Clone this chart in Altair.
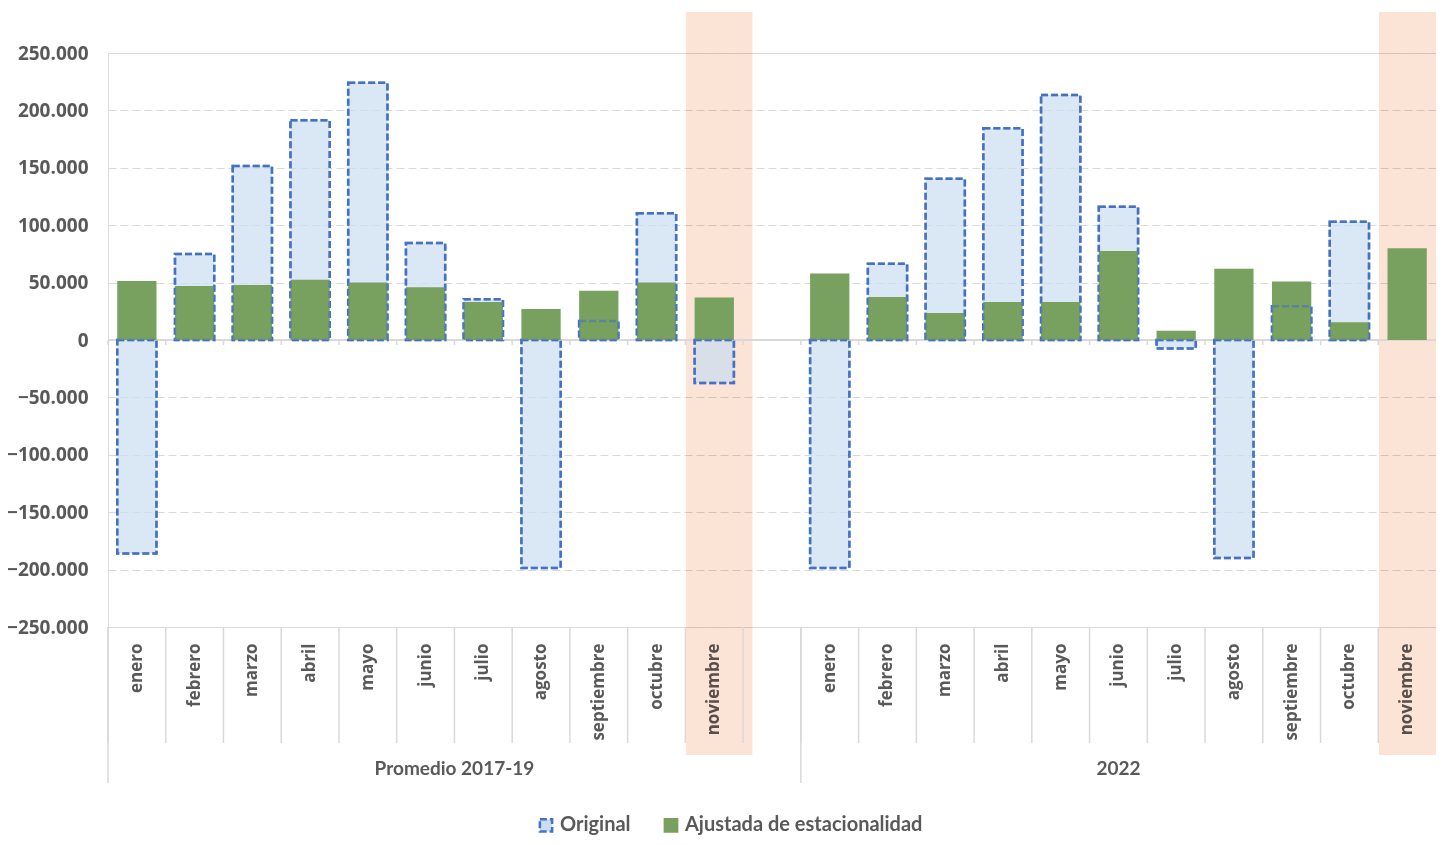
import altair as alt
import pandas as pd

# ---------------- data ----------------
months = ["enero", "febrero", "marzo", "abril", "mayo", "junio", "julio",
          "agosto", "septiembre", "octubre", "noviembre"]
groups = ["Promedio 2017-19", "2022"]
series_names = ["Original", "Ajustada de estacionalidad"]

orig_1719 = [-186000, 75000, 151500, 191500, 224000, 84500, 35500, -198500, 16500, 110500, -37500]
adj_1719 = [51500, 47000, 48000, 52500, 50000, 46000, 33000, 27000, 43000, 50000, 37000]
orig_2022 = [-198500, 66500, 140500, 184500, 213500, 116000, -7500, -190000, 29500, 103000, None]
adj_2022 = [58000, 37500, 23500, 33000, 33000, 77500, 8000, 62000, 51000, 15500, 80000]

highlight_month = "noviembre"
y_ticks = [-250000, -200000, -150000, -100000, -50000, 0, 50000, 100000, 150000, 200000, 250000]

# ---------------- tables ----------------
slots = []
rows = []
for g, orig, adj in [("g1", orig_1719, adj_1719), ("g2", orig_2022, adj_2022)]:
    for i, m in enumerate(months):
        key = f"{g}_{i+1:02d}_{m}"
        slots.append(key)
        if orig[i] is not None:
            rows.append({"slot": key, "series": series_names[0], "value": orig[i]})
        rows.append({"slot": key, "series": series_names[1], "value": adj[i]})
    if g == "g1":
        slots.append("g1_12_")  # empty category between the two groups

bars = pd.DataFrame(rows)
orig_df = bars[bars.series == series_names[0]]
adj_df = bars[bars.series == series_names[1]]
slot_df = pd.DataFrame({"slot": slots})
group_start_df = pd.DataFrame({"slot": [s for s in slots if s.endswith("_01_enero")]})
band_df = pd.DataFrame({"slot": [s for s in slots if s.endswith(highlight_month)]})
g1_label = pd.DataFrame({"slot": ["g1_07_julio"], "label": [groups[0]]})
g2_label = pd.DataFrame({"slot": ["g2_06_junio"], "label": [groups[1]]})

# ---------------- style ----------------
W, H = 1328, 574
GRAY = "#595959"
BLUE = "#4472C4"
BLUE_FILL = "#CADDF1"
GREEN = "#78A05E"
PEACH = "#FBE3D6"
LINE = "#D9D9D9"

xscale = alt.Scale(domain=slots, paddingInner=0, paddingOuter=0)
yscale = alt.Scale(domain=[-250000, 250000], nice=False)

x_axis = alt.Axis(
    title=None, domain=False, ticks=False, grid=False, labelAngle=270,
    labelPadding=16, labelFont="Open Sans", labelFontWeight="bold",
    labelFontSize=17, labelColor=GRAY, labelOverlap=False,
    labelExpr="split(datum.label, '_')[2]",
)
y_axis = alt.Axis(
    title=None, domain=False, ticks=False, values=y_ticks,
    labelExpr="replace(format(datum.value, ','), ',', '.')",
    labelFont="Open Sans", labelFontWeight="bold", labelFontSize=19,
    labelColor=GRAY, labelPadding=20, grid=True, gridColor=LINE,
    gridDash=[8, 4], gridWidth=1,
)

leg = alt.Legend(
    title=None, orient="none", direction="horizontal", legendX=428, legendY=762,
    symbolType="square", symbolSize=150, symbolStrokeWidth=2.5,
    labelFont="Lato", labelFontWeight="bold", labelFontSize=20, labelLimit=400,
    labelColor=GRAY, columnPadding=28, labelOffset=4,
)

fill_enc = alt.Fill("series:N", scale=alt.Scale(domain=series_names, range=[BLUE_FILL, GREEN]), legend=leg)
stroke_enc = alt.Stroke("series:N", scale=alt.Scale(domain=series_names, range=[BLUE, GREEN]), legend=leg)
dash_enc = alt.StrokeDash("series:N", scale=alt.Scale(domain=series_names, range=[[7, 3], [1, 0]]), legend=leg)


def X(**kw):
    return alt.X("slot:N", scale=xscale, axis=x_axis, sort=slots, **kw)


peach = alt.Chart(band_df).mark_bar(
    color=PEACH, width={"band": 1.15}, xOffset=5, blend="multiply"
).encode(
    x=X(),
    y=alt.value(-41), y2=alt.value(702),
)

zero_line = alt.Chart(slot_df).mark_rule(color=LINE, strokeWidth=1.5).encode(
    y=alt.datum(0), x=alt.value(0), x2=alt.value(W),
)
zero_ticks = alt.Chart(slot_df).mark_rule(color=LINE, strokeWidth=1.5).encode(
    x=X(bandPosition=0),
    y=alt.datum(0), y2=alt.datum(-4400),
)

orig_layer = alt.Chart(orig_df).mark_bar(
    width={"band": 0.68}, strokeWidth=2.5, fillOpacity=0.7
).encode(
    x=X(),
    y=alt.Y("value:Q", scale=yscale, axis=y_axis),
    fill=fill_enc, stroke=stroke_enc, strokeDash=dash_enc,
)

adj_layer = alt.Chart(adj_df).mark_bar(width={"band": 0.68}).encode(
    x=X(),
    y=alt.Y("value:Q", scale=yscale, axis=y_axis),
    fill=fill_enc,
)

orig_outline = alt.Chart(orig_df).mark_bar(
    width={"band": 0.68}, fillOpacity=0, stroke=BLUE, strokeOpacity=0.6,
    strokeWidth=2.5, strokeDash=[7, 3],
).encode(
    x=X(),
    y=alt.Y("value:Q", scale=yscale, axis=y_axis),
)

cat_ticks = alt.Chart(slot_df).mark_rule(color=LINE, strokeWidth=1.5).encode(
    x=X(bandPosition=0),
    y=alt.value(H), y2=alt.value(H + 116),
)
group_lines = alt.Chart(group_start_df).mark_rule(color=LINE, strokeWidth=1.5).encode(
    x=X(bandPosition=0),
    y=alt.value(H), y2=alt.value(H + 156),
)

txt_kw = dict(font="Lato", fontWeight="bold", fontSize=19, color=GRAY, baseline="middle", align="center")
g1_text = alt.Chart(g1_label).mark_text(**txt_kw).encode(
    x=X(bandPosition=0),
    y=alt.value(716), text="label:N",
)
g2_text = alt.Chart(g2_label).mark_text(**txt_kw).encode(
    x=X(bandPosition=0.5),
    y=alt.value(716), text="label:N",
)

chart = alt.layer(
    peach, zero_line, zero_ticks, orig_layer, adj_layer, orig_outline,
    cat_ticks, group_lines, g1_text, g2_text,
).properties(
    width=W, height=H,
    autosize=alt.AutoSizeParams(type="none"),
    padding={"left": 100, "top": 45, "right": 0, "bottom": 208},
).configure_view(stroke=None).configure(background="white")

chart.save("out.html", embed_options={"renderer": "svg", "actions": False})
